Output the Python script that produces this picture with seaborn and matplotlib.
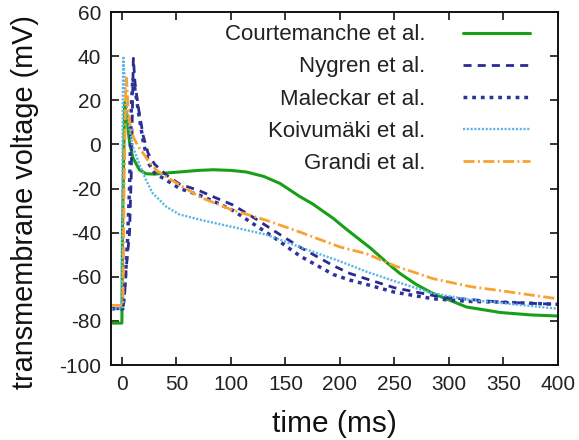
import matplotlib
matplotlib.use("Agg")
import matplotlib.pyplot as plt
import seaborn as sns
import pandas as pd

# ---- data ----
t_court = [-10, 0, 0.5, 2.5, 5, 7, 10, 16, 22, 30, 40, 53, 70, 84, 100, 114, 130, 145, 163, 175, 194, 206, 228, 244, 255, 270, 285, 300, 316, 347, 375, 400]
v_court = [-81, -81, -40, 19, 10, 1, -6, -11.5, -13.3, -13.5, -13, -12.5, -11.8, -11.5, -11.8, -12.5, -14.5, -17.7, -23.6, -27, -33.6, -38.5, -47, -54, -58.5, -63.5, -67.5, -70.5, -73.7, -76.2, -77.3, -77.8]

t_nyg = [-10, 1, 2.5, 4, 5.5, 7, 8.5, 10.5, 12, 15, 19.5, 24, 30, 41, 53, 71, 85, 102, 123.5, 139, 163, 194, 209, 224.5, 250, 285.6, 300, 347, 400]
v_nyg = [-74.5, -74.5, -68, -56, -48, -40, -15, 39, 28, 17, 4, -4, -9, -14, -18, -21, -24, -27.5, -34, -39, -46.5, -55, -58.5, -61, -65, -68.5, -69.5, -71.5, -72.5]

t_mal = [-10, 1, 3, 5, 7, 8.5, 10, 13, 16, 20, 25, 30, 40, 53, 71, 85, 102, 123.5, 139, 163, 194, 209, 224.5, 250, 285.6, 320, 347, 400]
v_mal = [-74.5, -74.5, -62, -45, -20, 15, 30, 22, 12, 0, -9, -13, -16, -20, -23, -26, -30, -37, -42, -50.5, -59, -61.5, -63.5, -67, -70, -71.2, -71.5, -72.5]

t_koi = [-10, 0, 0.6, 1.2, 3, 6, 10, 16, 22, 28, 41, 53, 72, 102, 133, 163, 200, 225, 250, 285, 320, 350, 400]
v_koi = [-74.5, -74.5, 0, 40, 25, 10, -1, -9, -16, -22, -28.4, -31.8, -34.2, -37.5, -41, -46.5, -53, -57.8, -62, -67.5, -70.5, -72, -74.5]

t_gra = [-10, 1, 2, 3.5, 4.3, 5.6, 7.5, 10.4, 15, 19.5, 25, 31.8, 40, 50, 72, 100, 133, 163, 200, 224.5, 250, 285.6, 320, 347, 400]
v_gra = [-73, -73, -20, 25, 30, 17, 9, 3.4, -1, -4, -8, -11.8, -14.5, -17.5, -24, -29.5, -34.5, -39.7, -46.5, -49.6, -55, -60.9, -64.5, -66.3, -70]

labels = ["Courtemanche et al.", "Nygren et al.", "Maleckar et al.", "Koivumäki et al.", "Grandi et al."]
x_ticks = [0, 50, 100, 150, 200, 250, 300, 350, 400]
y_ticks = [-100, -80, -60, -40, -20, 0, 20, 40, 60]

series = [(t_court, v_court), (t_nyg, v_nyg), (t_mal, v_mal), (t_koi, v_koi), (t_gra, v_gra)]
colors = ["#17a017", "#2b2b8f", "#2b3599", "#5bb5e5", "#f9a232"]
styles = ["-", (0, (2.9, 2.2)), (0, (1.1, 1.4)), (0, (0.9, 0.7)), (0, (4, 1.2, 0.7, 1.2))]
widths = [2.2, 2.0, 2.5, 1.7, 2.0]

sns.set_style("ticks")
plt.rcParams["font.family"] = ["Liberation Sans", "DejaVu Sans"]
plt.rcParams["axes.unicode_minus"] = False

fig = plt.figure(figsize=(5.79, 4.40), dpi=100)
ax = fig.add_axes([111 / 579, 1 - 365 / 440, (558 - 111) / 579, (365 - 12) / 440])

for (t, v), lab, c, ls, lw in zip(series, labels, colors, styles, widths):
    df = pd.DataFrame({"time": t, "V": v})
    sns.lineplot(data=df, x="time", y="V", ax=ax, color=c, linestyle=ls,
                 linewidth=lw, label=lab, estimator=None, sort=True)

ax.set_xlim(-10, 400)
ax.set_ylim(-100, 60)
ax.set_xticks(x_ticks)
ax.set_yticks(y_ticks)
ax.set_xlabel("time (ms)", fontsize=21.5, color="#111111", labelpad=12)
ax.set_ylabel("transmembrane voltage (mV)", fontsize=20.8, color="#111111")
ax.yaxis.set_label_coords(-0.162, 0.462)
ax.tick_params(direction="in", top=True, right=True, length=6, width=1.3,
               labelsize=15, labelcolor="#222222", pad=7)
for s in ax.spines.values():
    s.set_linewidth(1.4)
    s.set_color("#111111")

leg = ax.legend(loc="upper right", bbox_to_anchor=(0.937, 0.965), frameon=False,
                markerfirst=False, fontsize=16, handlelength=3.0, handletextpad=1.7,
                labelspacing=0.5, borderaxespad=0, borderpad=0)
for txt in leg.get_texts():
    txt.set_color("#222222")

fig.savefig("out.png", dpi=100)
